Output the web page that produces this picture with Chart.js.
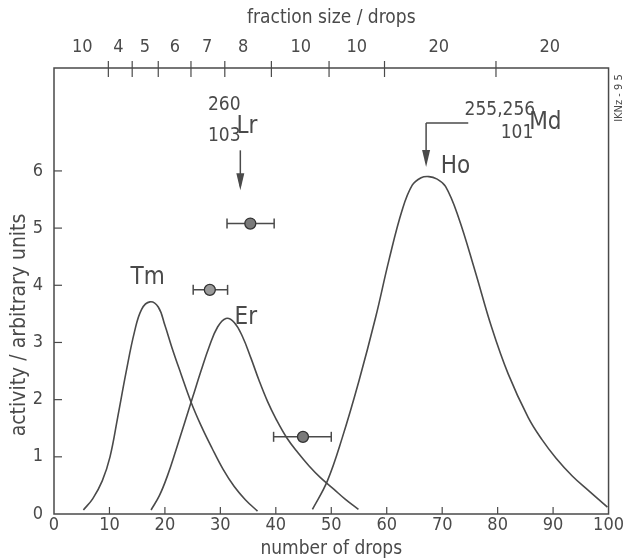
<!DOCTYPE html>
<html><head><meta charset="utf-8">
<script src="https://cdn.jsdelivr.net/npm/chart.js@4.4.0/dist/chart.umd.min.js"></script>
<style>html,body{margin:0;padding:0;background:#fff}#wrap{width:625px;height:560px}</style>
</head><body><div id="wrap"><canvas id="c" width="625" height="560"></canvas></div>
<script>
// ---- data ----
const tmX = [5.3, 7.0, 8.7, 10.1, 11.5, 13.0, 14.5, 15.8, 17.3, 18.8, 20.0, 21.3, 22.9, 24.7, 26.5, 28.5, 30.5, 32.5, 34.5, 36.7];
const tmY = [0.07, 0.27, 0.58, 1.00, 1.70, 2.48, 3.18, 3.58, 3.71, 3.62, 3.30, 2.90, 2.45, 1.96, 1.55, 1.15, 0.78, 0.48, 0.25, 0.05];
const erX = [17.5, 19.0, 20.5, 22.0, 23.5, 25.0, 26.5, 28.0, 29.5, 31.0, 32.5, 34.0, 35.5, 37.0, 38.5, 40.0, 42.0, 44.0, 46.0, 48.0, 50.5, 52.5, 54.9];
const erY = [0.07, 0.32, 0.68, 1.12, 1.58, 2.04, 2.50, 2.93, 3.27, 3.42, 3.35, 3.10, 2.73, 2.33, 1.97, 1.67, 1.33, 1.07, 0.84, 0.64, 0.43, 0.26, 0.08];
const hoX = [46.6, 49.3, 52.0, 55.0, 58.0, 60.4, 62.8, 64.6, 66.2, 67.6, 69.0, 70.6, 72.9, 75.9, 78.9, 81.9, 85.5, 88.0, 90.5, 93.5, 96.5, 99.8];
const hoY = [0.08, 0.58, 1.34, 2.33, 3.44, 4.44, 5.32, 5.75, 5.88, 5.90, 5.86, 5.73, 5.20, 4.26, 3.27, 2.45, 1.69, 1.30, 0.98, 0.66, 0.40, 0.12];

const ptX  = [28.1, 35.4, 44.9];
const ptY  = [3.92, 5.08, 1.35];
const ptLo = [25.1, 31.2, 39.6];
const ptHi = [31.3, 39.7, 50.0];

const xTicks = [0,10,20,30,40,50,60,70,80,90,100];
const yTicks = [0,1,2,3,4,5,6];
const topBounds = [9.8, 14.1, 18.8, 24.7, 30.8, 39.2, 49.6, 59.6, 79.7];
const topLabelPos = [5.1, 11.6, 16.4, 21.8, 27.6, 34.1, 44.5, 54.6, 69.4, 89.4];
const topLabels = ['10','4','5','6','7','8','10','10','20','20'];

const curveLabels = [['Tm',16.9,4.14],['Er',34.6,3.44],['Ho',72.4,6.08]];
// ---- styling ----
const INK = '#4a4a4a';
const FONT = "'Liberation Sans Narrow','DejaVu Sans Condensed','Arial Narrow',sans-serif";

const toXY = (xs, ys) => xs.map((v,i)=>({x:v, y:ys[i]}));
const lineDs = (xs, ys) => ({type:'line', data: toXY(xs,ys), borderColor: INK, borderWidth: 1.6,
  pointRadius: 0, fill:false, tension:0.4, showLine:true});

function line(ctx,x1,y1,x2,y2){ctx.beginPath();ctx.moveTo(x1,y1);ctx.lineTo(x2,y2);ctx.stroke();}
function arrowHead(ctx,x,tip){ctx.beginPath();ctx.moveTo(x,tip);ctx.lineTo(x-4,tip-17);ctx.lineTo(x+4,tip-17);ctx.closePath();ctx.fill();}

const decor = {
  id:'decor',
  beforeDatasetsDraw(chart){
    const {ctx, chartArea:a, scales:{x,y}} = chart;
    ctx.save();
    ctx.strokeStyle = INK; ctx.lineWidth = 1.5;
    ctx.strokeRect(a.left, a.top, a.right-a.left, a.bottom-a.top);
    ctx.lineWidth = 1.2;
    yTicks.forEach(v=>{ if(v===0) return; const py=y.getPixelForValue(v); line(ctx,a.left,py,a.left+8,py); });
    xTicks.forEach(v=>{ if(v===0||v===100) return; const px=x.getPixelForValue(v); line(ctx,px,a.bottom,px,a.bottom-7); });
    topBounds.forEach(v=>{ const px=x.getPixelForValue(v); line(ctx,px,a.top-7,px,a.top+9); });
    // error bars
    ctx.lineWidth = 1.5;
    ptX.forEach((v,i)=>{
      const py=y.getPixelForValue(ptY[i]), l=x.getPixelForValue(ptLo[i]), r=x.getPixelForValue(ptHi[i]);
      line(ctx,l,py,r,py); line(ctx,l,py-5,l,py+5); line(ctx,r,py-5,r,py+5);
    });
    // y-axis title
    ctx.save(); ctx.fillStyle=INK; ctx.textAlign='center'; ctx.textBaseline='middle';
    ctx.translate(20,325); ctx.rotate(-Math.PI/2);
    ctx.font='21px '+FONT; ctx.fillText('activity / arbitrary units',0,0); ctx.restore();
    ctx.restore();
  },
  afterDatasetsDraw(chart){
    const {ctx, scales:{x,y}} = chart;
    ctx.save();
    ctx.strokeStyle = INK; ctx.fillStyle = INK; ctx.lineWidth = 1.5;
    // Lr arrow
    let ax = x.getPixelForValue(33.6);
    line(ctx, ax, y.getPixelForValue(6.36), ax, y.getPixelForValue(5.66)-4);
    arrowHead(ctx, ax, y.getPixelForValue(5.66));
    // Md arrow
    ax = x.getPixelForValue(67.1);
    const hy = y.getPixelForValue(6.84);
    line(ctx, x.getPixelForValue(74.7), hy, ax, hy);
    line(ctx, ax, hy, ax, y.getPixelForValue(6.07)-4);
    arrowHead(ctx, ax, y.getPixelForValue(6.07));
    // texts
    ctx.textAlign='center'; ctx.textBaseline='middle';
    const t=(s,vx,vy,size)=>{ctx.font=size+'px '+FONT; ctx.fillText(s,x.getPixelForValue(vx),y.getPixelForValue(vy));};
    curveLabels.forEach(c=>t(c[0],c[1],c[2],24));
    t('260',30.7,7.15,19); t('103',30.7,6.61,19); t('Lr',34.8,6.78,24);
    t('255,256',80.4,7.06,19); t('101',83.5,6.66,19); t('Md',88.6,6.85,24);
    // side code
    ctx.save(); ctx.translate(619,98); ctx.rotate(-Math.PI/2);
    ctx.font='11px '+FONT; ctx.fillText('IKNz - 9 5',0,0); ctx.restore();
    ctx.restore();
  }
};

new Chart(document.getElementById('c'), {
  type:'scatter',
  data:{datasets:[
    lineDs(tmX,tmY), lineDs(erX,erY), lineDs(hoX,hoY),
    {type:'scatter', data: toXY(ptX,ptY), pointRadius:5.5, pointHoverRadius:5.5,
     backgroundColor:['#9a9a9a','#7a7a7a','#7a7a7a'], borderColor:'#333', borderWidth:1.3}
  ]},
  options:{
    responsive:false, animation:false, devicePixelRatio:1,
    layout:{padding:{left:0,right:14,top:0,bottom:0}},
    plugins:{legend:{display:false}, tooltip:{enabled:false}},
    scales:{
      x:{type:'linear', position:'bottom', min:0, max:100,
        afterBuildTicks:s=>{s.ticks=xTicks.map(v=>({value:v}));},
        afterFit:s=>{s.height=46;},
        grid:{display:false, drawTicks:false}, border:{display:false},
        ticks:{color:INK, font:{family:FONT,size:18}, padding:1, maxRotation:0, autoSkip:false},
        title:{display:true, text:'number of drops', color:INK, font:{family:FONT,size:19}, padding:{top:0,bottom:0}}},
      x2:{type:'linear', position:'top', min:0, max:100,
        afterBuildTicks:s=>{s.ticks=topLabelPos.map(v=>({value:v}));},
        afterFit:s=>{s.height=68;},
        grid:{display:false, drawTicks:false}, border:{display:false},
        ticks:{color:INK, font:{family:FONT,size:18}, padding:10, maxRotation:0, autoSkip:false,
          callback:(v,i)=>topLabels[i]},
        title:{display:true, text:'fraction size / drops', color:INK, font:{family:FONT,size:19}, padding:{top:7,bottom:0}}},
      y:{type:'linear', min:0, max:7.8,
        afterBuildTicks:s=>{s.ticks=yTicks.map(v=>({value:v}));},
        afterFit:s=>{s.width=54;},
        grid:{display:false, drawTicks:false}, border:{display:false},
        ticks:{color:INK, font:{family:FONT,size:18}, padding:11},
        title:{display:false}}
    }
  },
  plugins:[decor]
});
</script></body></html>
